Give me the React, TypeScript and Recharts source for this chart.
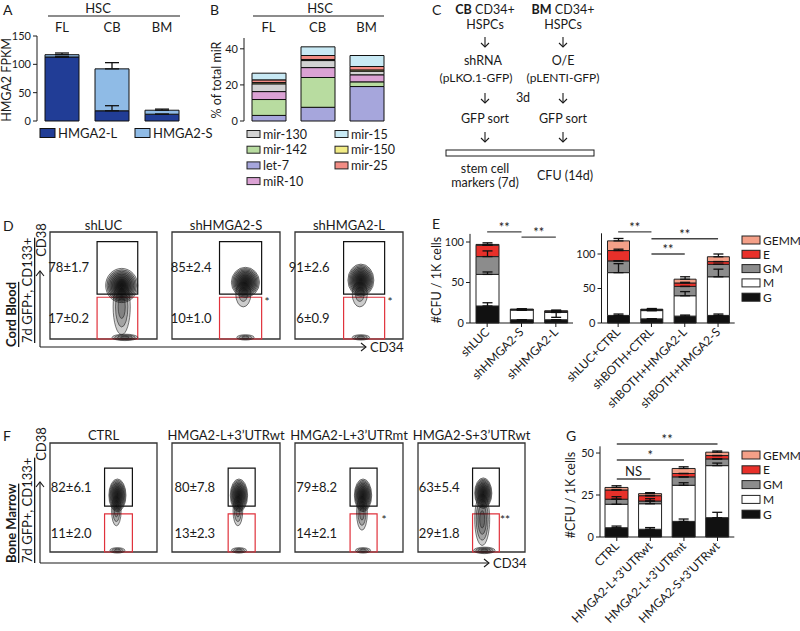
import React from "react";
import {
  BarChart,
  Bar,
  XAxis,
  YAxis,
  ErrorBar,
  ReferenceLine,
  ReferenceArea,
  ScatterChart,
  Scatter,
} from "recharts";

const W = 800;
const H = 631;
const FONT = "Lato, 'Open Sans', sans-serif";
const INK = "#1a1a1a";

// ---- A: HMGA2 isoform expression in HSCs
const hscGroups = ["FL", "CB", "BM"];
const hmgaL = [113, 18, 12];
const hmgaS = [4, 74, 7];
const hmgaLErr = [0, 9, 0];
const hmgaSErr = [3, 11, 2];

// ---- B: miRNA share of total miR
const let7 = [3.1, 7.6, 19.1];
const mir142 = [8.8, 16.5, 2.6];
const mir10 = [4.4, 5.5, 3.9];
const mir130 = [4.3, 3.9, 2.0];
const mir150 = [0.7, 0.6, 0.7];
const mir25 = [1.5, 2.2, 1.9];
const mir15 = [3.7, 4.8, 6.1];

// ---- CFU layers (bottom to top)
const cfuKeys = ["G", "M", "GM", "E", "GEMM"];
const cfuColors: Record<string, string> = {
  G: "#111111",
  M: "#ffffff",
  GM: "#8c8c8c",
  E: "#e8302a",
  GEMM: "#f4a088",
};

// ---- E left
const eLeftNames = ["shLUC", "shHMGA2-S", "shHMGA2-L"];
const eLeftG = [21, 4, 4];
const eLeftM = [39, 12, 9];
const eLeftGM = [22, 0.5, 1];
const eLeftE = [14, 0.3, 0.5];
const eLeftGEMM = [1, 0.2, 0.5];
const eLeftGErr = [[0, 4], [0, 0], [0, 0]];
const eLeftMErr = [[0, 3], [0, 0], [6, 0]];
const eLeftGMErr = [[0, 7], [0, 0], [0, 0]];
const eLeftEErr = [[0, 0], [0, 0], [0, 0]];
const eLeftGEMMErr = [[0, 2], [0, 0.6], [0, 1]];

// ---- E right
const eRightNames = ["shLUC+CTRL", "shBOTH+CTRL", "shBOTH+HMGA2-L", "shBOTH+HMGA2-S"];
const eRightG = [11, 6, 10, 11];
const eRightM = [62, 12, 29.5, 56];
const eRightGM = [17, 1, 13.5, 18];
const eRightE = [15, 0.5, 5, 4];
const eRightGEMM = [14, 0.5, 5.5, 7];
const eRightGErr = [[0, 2], [0, 0], [0, 1.5], [0, 2]];
const eRightMErr = [[0, 13], [0, 0], [0, 6], [0, 11]];
const eRightGMErr = [[0, 0], [0, 0], [0, 0], [0, 0]];
const eRightEErr = [[0, 2], [0, 0], [0, 1], [0, 0]];
const eRightGEMMErr = [[0, 3.5], [0, 1], [0, 3.5], [0, 4]];

// ---- G
const gNames = ["CTRL", "HMGA2-L+3\u2019UTRwt", "HMGA2-L+3\u2019UTRmt", "HMGA2-S+3\u2019UTRwt"];
const gG = [5.5, 4.6, 9.3, 11.5];
const gM = [14, 15.2, 21.5, 31];
const gGM = [3, 1.6, 5, 4];
const gE = [5.5, 3.2, 2, 2];
const gGEMM = [1.5, 1.2, 3, 2];
const gGErr = [[0, 1], [0, 1], [0, 1.4], [0, 3.2]];
const gMErr = [[0, 4.5], [0, 3], [0, 1.5], [0, 1.5]];
const gGMErr = [[0, 0], [0, 0], [0, 0], [0, 0]];
const gEErr = [[0, 0], [0, 0], [0, 0], [0, 0]];
const gGEMMErr = [[0, 1], [0, 0.6], [0, 1], [0, 0.7]];

// ---- D / F flow plots: contour clusters (x: CD34, y: CD38, 0-100)
const dLuc = [
  { x: 67, y: 50, sx: 15, sy: 16, n: 10 },
  { x: 67, y: 30, sx: 8, sy: 26, n: 3 },
  { x: 70, y: 1.5, sx: 12, sy: 3, n: 4 },
];
const dShS = [
  { x: 68, y: 53, sx: 13, sy: 14, n: 10 },
  { x: 66, y: 42, sx: 7, sy: 12, n: 2 },
  { x: 68, y: 1.5, sx: 8, sy: 2.5, n: 3 },
];
const dShL = [
  { x: 61, y: 55, sx: 12, sy: 15, n: 10 },
  { x: 60, y: 42, sx: 7, sy: 12, n: 2 },
  { x: 61, y: 1.5, sx: 8, sy: 2.5, n: 3 },
];
const fCtrl = [
  { x: 63, y: 52, sx: 8, sy: 15, n: 10 },
  { x: 62, y: 38, sx: 4.5, sy: 14, n: 3 },
  { x: 63, y: 1.5, sx: 7, sy: 2.5, n: 3 },
];
const fLwt = [
  { x: 62, y: 52, sx: 8, sy: 15, n: 10 },
  { x: 61, y: 38, sx: 4.5, sy: 14, n: 3 },
  { x: 62, y: 1.5, sx: 7, sy: 2.5, n: 3 },
];
const fLmt = [
  { x: 63, y: 52, sx: 8, sy: 15, n: 10 },
  { x: 62, y: 36, sx: 5, sy: 16, n: 3 },
  { x: 63, y: 1.5, sx: 7, sy: 2.5, n: 3 },
];
const fSwt = [
  { x: 61, y: 54, sx: 8, sy: 14, n: 10 },
  { x: 60, y: 30, sx: 7, sy: 24, n: 4 },
  { x: 62, y: 1.5, sx: 10, sy: 3, n: 4 },
];

const layer: React.CSSProperties = { position: "absolute", left: 0, top: 0 };
const YW = 40; // y axis width
const XH = 20; // x axis height
// margin so that the plot area lands on [x0,x1]x[y0,y1] in page pixels
const frame = (x0: number, y0: number, x1: number, y1: number, topAxis = false) => ({
  left: x0 - YW,
  top: topAxis ? y0 - XH : y0,
  right: W - x1,
  bottom: topAxis ? H - y1 : H - y1 - XH,
});

const cfuRows = (names: string[], cols: number[][], errs: number[][][]) =>
  names.map((name, i) => {
    const row: any = { name };
    cfuKeys.forEach((k, j) => {
      row[k] = cols[j][i];
      row[k + "Err"] = errs[j][i];
    });
    return row;
  });

const SlantTick = (props: any) => {
  const { x, y, payload } = props;
  return (
    <text
      x={x}
      y={y}
      dy="0.35em"
      textAnchor="end"
      fontSize={12}
      fontFamily={FONT}
      fill={INK}
      transform={`rotate(-45 ${x} ${y})`}
    >
      {payload.value}
    </text>
  );
};

type Sig = { from: string; to: string; y: number; text: string };
const tickFont = { fontSize: 11, fill: INK, fontFamily: FONT };
const catFont = { fontSize: 13, fill: INK, fontFamily: FONT };

function CfuChart({ rows, plot, top, ticks, sigs, barSize }: any) {
  return (
    <div style={layer}>
      <BarChart width={W} height={H} data={rows} margin={frame(plot[0], plot[1], plot[2], plot[3])}>
        <XAxis dataKey="name" height={XH} interval={0} tickSize={4} tickMargin={3} stroke={INK} tick={<SlantTick />} />
        <YAxis width={YW} domain={[0, top]} ticks={ticks} tickSize={4} tickMargin={2} stroke={INK} tick={tickFont} />
        {cfuKeys.map((k) => (
          <Bar key={k} dataKey={k} stackId="cfu" fill={cfuColors[k]} stroke="#222" strokeWidth={1} barSize={barSize} isAnimationActive={false}>
            <ErrorBar dataKey={k + "Err"} width={5} stroke="#111" strokeWidth={1.3} isAnimationActive={false} />
          </Bar>
        ))}
        {sigs.map((s: Sig, i: number) => (
          <ReferenceLine
            key={i}
            segment={[{ x: s.from, y: s.y }, { x: s.to, y: s.y }]}
            stroke="#444"
            strokeWidth={1.4}
            ifOverflow="visible"
            label={{ value: s.text, position: "top", offset: s.text === "NS" ? 3 : 0, fontSize: 13, fill: INK, fontFamily: FONT }}
          />
        ))}
      </BarChart>
    </div>
  );
}

const Contour = (props: any) => {
  const { cx, cy, payload, kx, ky } = props;
  const rings = [];
  for (let k = payload.n; k >= 1; k--) {
    const f = Math.pow(k / payload.n, 0.8);
    rings.push(
      <ellipse
        key={k}
        cx={cx}
        cy={cy}
        rx={payload.sx * kx * f}
        ry={payload.sy * ky * f}
        fill="rgba(0,0,0,0.2)"
        stroke="#222"
        strokeWidth={0.6}
      />
    );
  }
  return <g>{rings}</g>;
};

function FlowPlot({ box, clusters, gateX, upper, lower, upperText, lowerText, offset }: any) {
  const kx = (box[2] - box[0]) / 100;
  const ky = (box[3] - box[1]) / 100;
  const lab = (v: string) => ({ value: v, position: "left", offset, fontSize: 13, fill: INK, fontFamily: FONT });
  return (
    <div style={layer}>
      <ScatterChart width={W} height={H} margin={{ left: box[0], top: box[1], right: W - box[2], bottom: H - box[3] }}>
        <XAxis type="number" dataKey="x" domain={[0, 100]} hide />
        <YAxis type="number" dataKey="y" domain={[0, 100]} hide />
        <ReferenceArea x1={0} x2={100} y1={0} y2={100} fill="none" stroke="#333" strokeWidth={1.3} ifOverflow="visible" />
        <Scatter data={clusters} shape={(p: any) => <Contour {...p} kx={kx} ky={ky} />} isAnimationActive={false} />
        <ReferenceArea x1={gateX[0]} x2={gateX[1]} y1={upper[0]} y2={upper[1]} fill="none" stroke="#111" strokeWidth={1.2} label={lab(upperText)} />
        <ReferenceArea x1={gateX[0]} x2={gateX[1]} y1={lower[0]} y2={lower[1]} fill="none" stroke="#e0323c" strokeWidth={1.2} label={lab(lowerText)} />
      </ScatterChart>
    </div>
  );
}

const Txt = ({ x, y, children, size = 13, anchor = "middle", weight, rot, deco }: any) => (
  <text
    x={x}
    y={y}
    fontSize={size}
    textAnchor={anchor}
    dominantBaseline="central"
    fontWeight={weight}
    textDecoration={deco}
    fill={INK}
    transform={rot ? `rotate(${rot} ${x} ${y})` : undefined}
  >
    {children}
  </text>
);

const Legend = ({ x, y0, step, items, sw = 18, sh = 9, size = 12.5 }: any) => (
  <g>
    {items.map((it: any, i: number) => (
      <g key={it.name}>
        <rect x={x} y={y0 + i * step - sh / 2} width={sw} height={sh} fill={it.color} stroke="#222" strokeWidth={1} />
        <Txt x={x + sw + 3} y={y0 + i * step} anchor="start" size={size}>{it.name}</Txt>
      </g>
    ))}
  </g>
);

const VArrow = ({ x, y0, y1 }: any) => (
  <g stroke={INK} strokeWidth={1.1} fill="none">
    <line x1={x} y1={y0} x2={x} y2={y1} />
    <polyline points={`${x - 4},${y1 + 5} ${x},${y1} ${x + 4},${y1 + 5}`} />
  </g>
);
const DownArrow = ({ x, y }: any) => (
  <g stroke={INK} strokeWidth={1.1} fill="none">
    <line x1={x} y1={y - 5} x2={x} y2={y + 5} />
    <polyline points={`${x - 4},${y + 1} ${x},${y + 5} ${x + 4},${y + 1}`} />
  </g>
);
const HArrow = ({ y, x0, x1 }: any) => (
  <g stroke={INK} strokeWidth={1.1} fill="none">
    <line x1={x0} y1={y} x2={x1} y2={y} />
    <polyline points={`${x1 - 5},${y - 4} ${x1},${y} ${x1 - 5},${y + 4}`} />
  </g>
);

export default function App() {
  const aRows = hscGroups.map((g, i) => ({
    g,
    L: hmgaL[i],
    S: hmgaS[i],
    LErr: [0, hmgaLErr[i]],
    SErr: [0, hmgaSErr[i]],
  }));
  const bRows = hscGroups.map((g, i) => ({
    g,
    let7: let7[i],
    mir142: mir142[i],
    mir10: mir10[i],
    mir130: mir130[i],
    mir150: mir150[i],
    mir25: mir25[i],
    mir15: mir15[i],
  }));
  const bSeries = [
    { key: "let7", color: "#a6a6dc" },
    { key: "mir142", color: "#b8dca0" },
    { key: "mir10", color: "#dba2d4" },
    { key: "mir130", color: "#d2d2d2" },
    { key: "mir150", color: "#f2ec86" },
    { key: "mir25", color: "#f28c84" },
    { key: "mir15", color: "#c8e9f4" },
  ];
  const eLeftRows = cfuRows(eLeftNames, [eLeftG, eLeftM, eLeftGM, eLeftE, eLeftGEMM], [eLeftGErr, eLeftMErr, eLeftGMErr, eLeftEErr, eLeftGEMMErr]);
  const eRightRows = cfuRows(eRightNames, [eRightG, eRightM, eRightGM, eRightE, eRightGEMM], [eRightGErr, eRightMErr, eRightGMErr, eRightEErr, eRightGEMMErr]);
  const gRows = cfuRows(gNames, [gG, gM, gGM, gE, gGEMM], [gGErr, gMErr, gGMErr, gEErr, gGEMMErr]);

  const cfuLegend = [
    { name: "GEMM", color: cfuColors.GEMM },
    { name: "E", color: cfuColors.E },
    { name: "GM", color: cfuColors.GM },
    { name: "M", color: cfuColors.M },
    { name: "G", color: cfuColors.G },
  ];

  return (
    <div style={{ position: "absolute", left: 0, top: 0, width: W, height: H, background: "#fff", fontFamily: FONT }}>
      {/* A */}
      <div style={layer}>
        <BarChart width={W} height={H} data={aRows} margin={frame(37, 36, 187, 121, true)}>
          <XAxis dataKey="g" orientation="top" height={XH} axisLine={false} tickLine={false} tickSize={0} tickMargin={4.5} tick={catFont} />
          <YAxis width={YW} domain={[0, 150]} ticks={[0, 50, 100, 150]} tickSize={4} tickMargin={2} stroke={INK} tick={tickFont} />
          <Bar dataKey="L" stackId="a" fill="#213d96" stroke="#111" strokeWidth={1} barSize={34} isAnimationActive={false}>
            <ErrorBar dataKey="LErr" width={7} stroke="#111" strokeWidth={1.3} isAnimationActive={false} />
          </Bar>
          <Bar dataKey="S" stackId="a" fill="#8fbbe6" stroke="#111" strokeWidth={1} barSize={34} isAnimationActive={false}>
            <ErrorBar dataKey="SErr" width={7} stroke="#111" strokeWidth={1.3} isAnimationActive={false} />
          </Bar>
        </BarChart>
      </div>

      {/* B */}
      <div style={layer}>
        <BarChart width={W} height={H} data={bRows} margin={frame(244, 38, 391, 121, true)}>
          <XAxis dataKey="g" orientation="top" height={XH} axisLine={false} tickLine={false} tickSize={0} tickMargin={6.5} tick={catFont} />
          <YAxis width={YW} domain={[0, 46]} ticks={[0, 20, 40]} tickSize={4} tickMargin={2} stroke={INK} tick={tickFont} />
          {bSeries.map((s) => (
            <Bar key={s.key} dataKey={s.key} stackId="b" fill={s.color} stroke="#111" strokeWidth={1} barSize={34} isAnimationActive={false} />
          ))}
        </BarChart>
      </div>

      {/* E */}
      <CfuChart
        rows={eLeftRows}
        plot={[470, 233.9, 573, 323]}
        top={110}
        ticks={[0, 50, 100]}
        barSize={23}
        sigs={[
          { from: "shLUC", to: "shHMGA2-S", y: 112.5, text: "**" },
          { from: "shHMGA2-S", to: "shHMGA2-L", y: 106, text: "**" },
        ]}
      />
      <CfuChart
        rows={eRightRows}
        plot={[601.5, 233.3, 734.7, 323]}
        top={130}
        ticks={[0, 50, 100]}
        barSize={22}
        sigs={[
          { from: "shLUC+CTRL", to: "shBOTH+CTRL", y: 132, text: "**" },
          { from: "shBOTH+CTRL", to: "shBOTH+HMGA2-S", y: 122, text: "**" },
          { from: "shBOTH+CTRL", to: "shBOTH+HMGA2-L", y: 100, text: "**" },
        ]}
      />

      {/* G */}
      <CfuChart
        rows={gRows}
        plot={[600, 446.3, 734.3, 537]}
        top={54}
        ticks={[0, 25, 50]}
        barSize={23}
        sigs={[
          { from: "CTRL", to: gNames[3], y: 55.4, text: "**" },
          { from: "CTRL", to: gNames[2], y: 45.8, text: "*" },
          { from: "CTRL", to: gNames[1], y: 34.5, text: "NS" },
        ]}
      />

      {/* D */}
      <FlowPlot box={[50, 232, 157, 339]} clusters={dLuc} gateX={[44, 82]} upper={[42, 91]} lower={[0, 39]} upperText="78±1.7" lowerText="17±0.2" offset={8} />
      <FlowPlot box={[172, 232, 280, 339]} clusters={dShS} gateX={[44, 83]} upper={[42, 91]} lower={[0, 39]} upperText="85±2.4" lowerText="10±1.0" offset={8} />
      <FlowPlot box={[295, 232, 403, 339]} clusters={dShL} gateX={[45, 83]} upper={[42, 91]} lower={[0, 39]} upperText="91±2.6" lowerText="6±0.9" offset={14} />

      {/* F */}
      <FlowPlot box={[50, 443, 157, 552]} clusters={fCtrl} gateX={[51, 77]} upper={[42, 77]} lower={[0, 35]} upperText="82±6.1" lowerText="11±2.0" offset={13} />
      <FlowPlot box={[172, 443, 280, 552]} clusters={fLwt} gateX={[52, 77]} upper={[42, 77]} lower={[0, 35]} upperText="80±7.8" lowerText="13±2.3" offset={13} />
      <FlowPlot box={[295, 443, 403, 552]} clusters={fLmt} gateX={[51, 76]} upper={[42, 77]} lower={[0, 35]} upperText="79±8.2" lowerText="14±2.1" offset={13} />
      <FlowPlot box={[418, 443, 525, 552]} clusters={fSwt} gateX={[51, 76]} upper={[42, 77]} lower={[0, 35]} upperText="63±5.4" lowerText="29±1.8" offset={13} />

      {/* annotations */}
      <svg width={W} height={H} style={{ ...layer, pointerEvents: "none" }} fontFamily={FONT}>
        {/* panel letters */}
        <Txt x={3} y={9} anchor="start" size={14}>A</Txt>
        <Txt x={210} y={9} anchor="start" size={14}>B</Txt>
        <Txt x={432} y={9} anchor="start" size={14}>C</Txt>
        <Txt x={3} y={225} anchor="start" size={14}>D</Txt>
        <Txt x={432} y={223} anchor="start" size={14}>E</Txt>
        <Txt x={3} y={435} anchor="start" size={14}>F</Txt>
        <Txt x={566} y={435} anchor="start" size={14}>G</Txt>

        {/* A header, legend, y title */}
        <Txt x={98} y={8}>HSC</Txt>
        <line x1={48} y1={16} x2={180} y2={16} stroke={INK} strokeWidth={1.2} />
        <rect x={40} y={128.5} width={15} height={9} fill="#213d96" stroke="#111" />
        <Txt x={58} y={133} anchor="start">HMGA2-L</Txt>
        <rect x={135} y={128.5} width={15} height={9} fill="#8fbbe6" stroke="#111" />
        <Txt x={153} y={133} anchor="start">HMGA2-S</Txt>
        <Txt x={6} y={80} rot={-90} size={12.5}>HMGA2 FPKM</Txt>

        {/* B header, legend, y title */}
        <Txt x={320} y={8}>HSC</Txt>
        <line x1={253} y1={16} x2={384} y2={16} stroke={INK} strokeWidth={1.2} />
        <Legend
          x={247}
          y0={134}
          step={15.7}
          sw={13}
          sh={7}
          items={[
            { name: "mir-130", color: "#d2d2d2" },
            { name: "mir-142", color: "#b8dca0" },
            { name: "let-7", color: "#a6a6dc" },
            { name: "miR-10", color: "#dba2d4" },
          ]}
        />
        <Legend
          x={335}
          y0={134}
          step={15.7}
          sw={13}
          sh={7}
          items={[
            { name: "mir-15", color: "#c8e9f4" },
            { name: "mir-150", color: "#f2ec86" },
            { name: "mir-25", color: "#f28c84" },
          ]}
        />
        <Txt x={216} y={80} rot={-90} size={12.5}>% of total miR</Txt>

        {/* C workflow */}
        <text x={485} y={9} fontSize={12.5} textAnchor="middle" dominantBaseline="central" fill={INK}>
          <tspan fontWeight="bold">CB</tspan> CD34+
        </text>
        <text x={563} y={9} fontSize={12.5} textAnchor="middle" dominantBaseline="central" fill={INK}>
          <tspan fontWeight="bold">BM</tspan> CD34+
        </text>
        <Txt x={485} y={24} size={12.5}>HSPCs</Txt>
        <Txt x={563} y={24} size={12.5}>HSPCs</Txt>
        <DownArrow x={485} y={42} />
        <DownArrow x={563} y={42} />
        <Txt x={483} y={60} size={12.5}>shRNA</Txt>
        <Txt x={563} y={60} size={12.5}>O/E</Txt>
        <Txt x={476} y={77} size={12}>(pLKO.1-GFP)</Txt>
        <Txt x={563} y={77} size={12}>(pLENTI-GFP)</Txt>
        <DownArrow x={485} y={98} />
        <Txt x={523} y={97} size={12.5}>3d</Txt>
        <DownArrow x={563} y={98} />
        <Txt x={485} y={118} size={12.5}>GFP sort</Txt>
        <Txt x={563} y={118} size={12.5}>GFP sort</Txt>
        <DownArrow x={485} y={137} />
        <DownArrow x={563} y={137} />
        <rect x={446} y={150} width={148} height={6} fill="#fff" stroke={INK} strokeWidth={1} />
        <Txt x={485} y={168} size={12.5}>stem cell</Txt>
        <Txt x={485} y={182} size={12.5}>markers (7d)</Txt>
        <Txt x={565} y={175} size={12.5}>CFU (14d)</Txt>

        {/* D headers, axes */}
        <Txt x={103.5} y={225}>shLUC</Txt>
        <Txt x={226} y={225}>shHMGA2-S</Txt>
        <Txt x={349} y={225}>shHMGA2-L</Txt>
        <VArrow x={40} y0={347} y1={271} />
        <HArrow y={347} x0={40} x1={366} />
        <Txt x={370} y={347} anchor="start">CD34</Txt>
        <Txt x={41} y={240} rot={-90}>CD38</Txt>
        <Txt x={11} y={347} rot={-90} anchor="start" weight="bold" deco="underline">Cord Blood</Txt>
        <Txt x={27} y={343} rot={-90} anchor="start" deco="underline">7d GFP+, CD133+</Txt>
        <Txt x={267} y={301} size={12}>*</Txt>
        <Txt x={390} y={301} size={12}>*</Txt>

        {/* F headers, axes */}
        <Txt x={103.5} y={435}>CTRL</Txt>
        <Txt x={226} y={435}>HMGA2-L+3’UTRwt</Txt>
        <Txt x={349} y={435}>HMGA2-L+3’UTRmt</Txt>
        <Txt x={471.5} y={435}>HMGA2-S+3’UTRwt</Txt>
        <VArrow x={40} y0={563} y1={482} />
        <HArrow y={563} x0={40} x1={489} />
        <Txt x={493} y={563} anchor="start">CD34</Txt>
        <Txt x={41} y={444} rot={-90}>CD38</Txt>
        <Txt x={11} y={563} rot={-90} anchor="start" weight="bold" deco="underline">Bone Marrow</Txt>
        <Txt x={27} y={563} rot={-90} anchor="start" deco="underline">7d GFP+, CD133+</Txt>
        <Txt x={384} y={519} size={12}>*</Txt>
        <Txt x={505} y={519} size={12}>**</Txt>

        {/* E / G legends and y titles */}
        <Legend x={742} y0={240} step={14.3} items={cfuLegend} size={12} sh={8} />
        <Txt x={436} y={280} rot={-90} size={12.5}>#CFU / 1K cells</Txt>
        <Legend x={742} y0={455} step={14.8} items={cfuLegend} size={12} sh={8} />
        <Txt x={570} y={495} rot={-90} size={12.5}>#CFU / 1K cells</Txt>
      </svg>
    </div>
  );
}
